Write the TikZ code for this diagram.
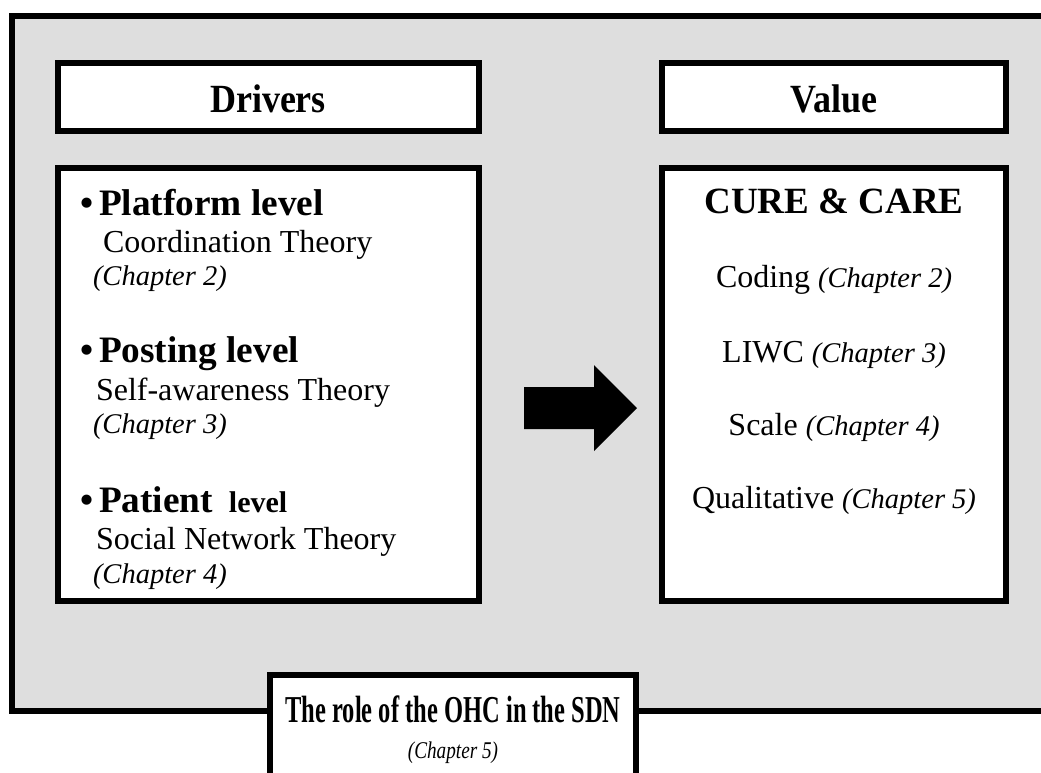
\documentclass[tikz,border=0pt]{standalone}
\usepackage{fontspec}
\setmainfont{Liberation Serif}
\usepackage{graphicx}
\definecolor{panelgray}{RGB}{222,222,222}
\newcommand\setfs[1]{\fontsize{#1}{#1}\selectfont}
\tikzset{
  frame/.style={draw=black, line width=6pt, fill=white},
  panel/.style={draw=black, line width=6pt, fill=panelgray},
  txt/.style={inner sep=0pt, outer sep=0pt},
  lefttxt/.style={txt, anchor=base west},
  midtxt/.style={txt, anchor=base},
  head/.style={font=\setfs{37.3}\bfseries},
  body/.style={font=\setfs{32}},
  chap/.style={font=\setfs{28.5}\itshape},
}
\begin{document}
\begin{tikzpicture}[x=1pt,y=-1pt]
\useasboundingbox (0,0) rectangle (1041,772);
\clip (0,0) rectangle (1041,772);

% grey panel
\draw[panel] (12,16) rectangle (1080,711);

% header boxes
\draw[frame] (57.5,63) rectangle (479,131);
\draw[frame] (662,63) rectangle (1006,131);
\node[midtxt] (drivers) at (268,112) {\scalebox{0.9}[1]{\setfs{40}\bfseries Drivers}};
\node[midtxt] (value) at (834,112) {\scalebox{0.9}[1]{\setfs{40}\bfseries Value}};

% content boxes
\draw[frame] (57.5,168) rectangle (479,601);
\draw[frame] (662,168) rectangle (1006,601);

% drivers list
\node[lefttxt, head] (plat) at (80,215) {•\hspace{6pt}Platform level};
\node[lefttxt, body] (platth) at (103,252) {Coordination Theory};
\node[lefttxt, chap] (platch) at (93,285) {(Chapter 2)};

\node[lefttxt, head] (post) at (80,362) {•\hspace{6pt}Posting level};
\node[lefttxt, body] (postth) at (96,400) {Self-awareness Theory};
\node[lefttxt, chap] (postch) at (93,433) {(Chapter 3)};

\node[lefttxt, head] (pat) at (80,512) {•\hspace{6pt}Patient\hspace{16pt}{\setfs{30}level}};
\node[lefttxt, body] (patth) at (96,549) {Social Network Theory};
\node[lefttxt, chap] (patch) at (93,583) {(Chapter 4)};

% value list
\node[midtxt] (cure) at (834,213) {\setfs{37}\bfseries CURE \& CARE};
\node[midtxt, body] (coding) at (834,287) {Coding {\setfs{28.5}\itshape(Chapter 2)}};
\node[midtxt, body] (liwc) at (834,362) {LIWC {\setfs{28.5}\itshape(Chapter 3)}};
\node[midtxt, body] (scale) at (834,435) {Scale {\setfs{28.5}\itshape(Chapter 4)}};
\node[midtxt, body] (qual) at (834,508) {Qualitative {\setfs{28.5}\itshape(Chapter 5)}};

% block arrow
\fill[black] (524,387) -- (594,387) -- (594,365) -- (637,408) -- (594,451)
  -- (594,429) -- (524,429) -- cycle;

% bottom title box
\draw[frame] (270,674.5) rectangle (636,800);
\node[midtxt] (role) at (453,722) {\scalebox{0.645}[1]{\setfs{38}\bfseries The role of the OHC in the SDN}};
\node[midtxt] (rolech) at (453,758) {\scalebox{0.8}[1]{\setfs{24}\itshape(Chapter 5)}};
\end{tikzpicture}
\end{document}
